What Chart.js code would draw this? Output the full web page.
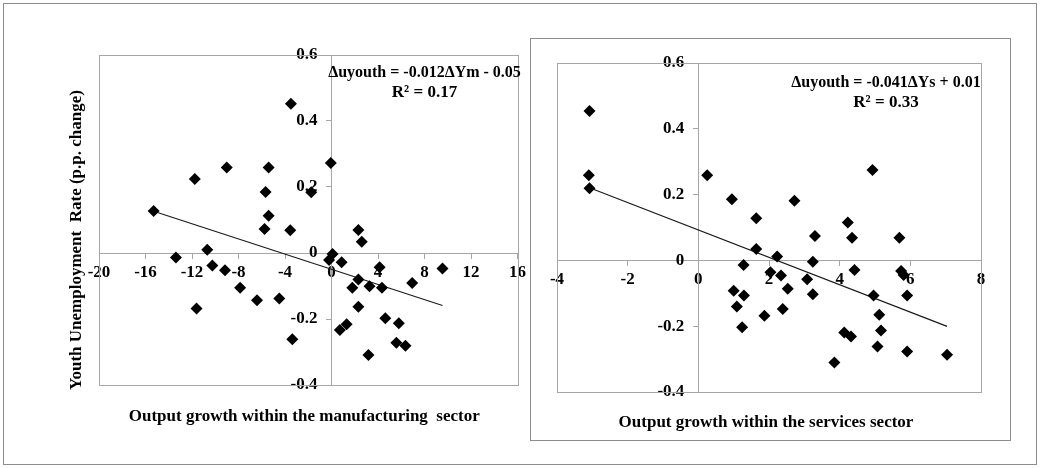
<!DOCTYPE html>
<html>
<head>
<meta charset="utf-8">
<script src="https://cdn.jsdelivr.net/npm/chart.js@4/dist/chart.umd.min.js"></script>
<style>
  html, body { margin: 0; padding: 0; background: #fff; }
  #page { position: relative; width: 1040px; height: 468px; overflow: hidden; background: #fff; }
  .frame { position: absolute; box-sizing: border-box; border: 1px solid #8c8c8c; }
  #outer { left: 3px; top: 3px; width: 1034px; height: 462px; }
  #panelS { left: 530px; top: 38px; width: 481px; height: 403px; }
  canvas { position: absolute; top: 0; }
  #mfg { left: 0; }
  #svc { left: 530px; }
</style>
</head>
<body>
<div id="page">
  <div class="frame" id="outer"></div>
  <div class="frame" id="panelS"></div>
  <canvas id="mfg" width="530" height="468"></canvas>
  <canvas id="svc" width="510" height="468"></canvas>
</div>
<script>
// Output growth within manufacturing (x) vs change in youth unemployment rate (y)
const mfgGrowth = [-15.30, -11.76, -9.01, -5.41, -5.67, -5.41, -5.76, -3.55, -3.49, -1.74,
                   -0.06, -10.69, -13.38, -10.25, -9.16, -7.86, -6.41, -4.49, -11.61, -3.37,
                   0.09, -0.21, 0.87, 2.31, 2.60, 2.31, 1.79, 3.27, 4.14, 4.34,
                   6.94, 9.55, 2.31, 4.63, 5.79, 1.30, 0.72, 5.58, 6.36, 3.18];
const mfgUnemp  = [0.127, 0.224, 0.259, 0.259, 0.185, 0.113, 0.073, 0.069, 0.452, 0.184,
                   0.273, 0.010, -0.014, -0.038, -0.052, -0.105, -0.143, -0.138, -0.168, -0.261,
                   -0.003, -0.021, -0.028, 0.070, 0.034, -0.080, -0.105, -0.101, -0.043, -0.105,
                   -0.091, -0.047, -0.163, -0.198, -0.213, -0.216, -0.233, -0.272, -0.281, -0.309];

// Output growth within services (x) vs change in youth unemployment rate (y)
const svcGrowth = [-3.08, -3.10, -3.08, 0.25, 0.95, 1.64, 2.72, 1.64, 2.23, 3.30,
                   4.23, 4.35, 4.93, 5.69, 3.24, 4.42, 1.28, 2.04, 2.34, 5.74,
                   5.81, 1.00, 1.29, 2.53, 3.08, 3.24, 4.96, 5.91, 1.09, 1.87,
                   2.39, 1.24, 5.12, 5.17, 4.13, 4.32, 5.07, 5.91, 7.04, 3.85];
const svcUnemp  = [0.454, 0.259, 0.219, 0.259, 0.186, 0.128, 0.181, 0.035, 0.012, 0.074,
                   0.115, 0.069, 0.275, 0.069, -0.004, -0.029, -0.014, -0.036, -0.046, -0.032,
                   -0.044, -0.092, -0.107, -0.086, -0.057, -0.103, -0.107, -0.107, -0.140, -0.168,
                   -0.148, -0.203, -0.165, -0.213, -0.219, -0.231, -0.262, -0.277, -0.287, -0.310];

// Axis ticks
const mfgXTicks = [-20, -16, -12, -8, -4, 0, 4, 8, 12, 16];
const svcXTicks = [-4, -2, 0, 2, 4, 6, 8];
const yTicks    = [-0.4, -0.2, 0, 0.2, 0.4, 0.6];

// Text
const mfgEquation = ['\u0394uyouth = -0.012\u0394Ym - 0.05', 'R\u00B2 = 0.17'];
const svcEquation = ['\u0394uyouth = -0.041\u0394Ys + 0.01', 'R\u00B2 = 0.33'];
const mfgXTitle = 'Output growth within the manufacturing  sector';
const svcXTitle = 'Output growth within the services sector';
const yTitle = 'Youth Unemployment  Rate (p.p. change)';

const FONT = "'Liberation Serif', 'Times New Roman', serif";
const GRAY = '#a6a6a6';

// Least-squares line through a series, spanning its x range
function fitLine(xs, ys) {
  const n = xs.length;
  const mx = xs.reduce((a, b) => a + b, 0) / n;
  const my = ys.reduce((a, b) => a + b, 0) / n;
  let sxy = 0, sxx = 0;
  xs.forEach((x, i) => { sxy += (x - mx) * (ys[i] - my); sxx += (x - mx) * (x - mx); });
  const slope = sxy / sxx, icpt = my - slope * mx;
  const x0 = Math.min(...xs), x1 = Math.max(...xs);
  return [{ x: x0, y: icpt + slope * x0 }, { x: x1, y: icpt + slope * x1 }];
}

function toPoints(xs, ys) { return xs.map((x, i) => ({ x, y: ys[i] })); }

// Plot frame, y tick label offset, titles and equation text
function decorPlugin(cfg) {
  return {
    id: 'decor',
    beforeDatasetsDraw(chart) {
      const { ctx, chartArea: a } = chart;
      ctx.save();
      ctx.strokeStyle = GRAY;
      ctx.lineWidth = 1;
      ctx.strokeRect(Math.round(a.left) + 0.5, Math.round(a.top) + 0.5,
                     Math.round(a.right - a.left), Math.round(a.bottom - a.top));
      ctx.restore();
    },
    beforeDraw(chart) {
      const items = chart.scales.y.getLabelItems(chart.chartArea);
      if (!items._placed) {
        const axisPx = chart.scales.x.getPixelForValue(0);
        items.forEach(it => { it.options.translation[0] = axisPx - cfg.yLabelGap; it.options.textAlign = 'right'; });
        items._placed = true;
      }
    },
    afterDraw(chart) {
      const { ctx, chartArea: a } = chart;
      ctx.save();
      ctx.fillStyle = '#000';
      ctx.textAlign = 'center';
      ctx.textBaseline = 'middle';
      ctx.font = 'bold 17px ' + FONT;
      ctx.fillText(cfg.xTitle, (a.left + a.right) / 2 + cfg.xTitleDx, a.bottom + cfg.xTitleDy);
      ctx.font = 'bold 16px ' + FONT;
      ctx.fillText(cfg.equation[0], a.right - cfg.eqDx, a.top + cfg.eqDy);
      ctx.font = 'bold 17px ' + FONT;
      ctx.fillText(cfg.equation[1], a.right - cfg.eqDx, a.top + cfg.eqDy + 20);
      if (cfg.yTitle) {
        ctx.translate(cfg.yTitleX, (a.top + a.bottom) / 2 + cfg.yTitleDy);
        ctx.rotate(-Math.PI / 2);
        ctx.fillText(cfg.yTitle, 0, 0);
      }
      ctx.restore();
    }
  };
}

function makeChart(id, xs, ys, xTicks, xMin, xMax, padding, cfg) {
  const tickFont = { family: FONT, size: 17, weight: 'bold' };
  return new Chart(document.getElementById(id), {
    type: 'scatter',
    data: {
      datasets: [
        {
          data: toPoints(xs, ys),
          pointStyle: 'rectRot',
          pointRadius: 6,
          pointHoverRadius: 6,
          backgroundColor: '#000',
          borderColor: '#000',
          borderWidth: 0,
          order: 1
        },
        {
          type: 'line',
          data: fitLine(xs, ys),
          borderColor: '#1a1a1a',
          borderWidth: 1.2,
          pointRadius: 0,
          fill: false,
          order: 2
        }
      ]
    },
    options: {
      responsive: false,
      animation: false,
      events: [],
      layout: { padding },
      plugins: { legend: { display: false }, tooltip: { enabled: false }, title: { display: false } },
      scales: {
        x: {
          type: 'linear',
          min: xMin, max: xMax,
          position: { y: 0 },
          afterBuildTicks: s => { s.ticks = xTicks.map(v => ({ value: v })); },
          border: { display: true, color: GRAY, width: 1 },
          grid: { drawOnChartArea: false, drawTicks: true, tickLength: 5, color: GRAY },
          ticks: { font: tickFont, color: '#000', padding: 4, maxRotation: 0, autoSkip: false }
        },
        y: {
          type: 'linear',
          min: -0.4, max: 0.6,
          position: { x: 0 },
          afterBuildTicks: s => { s.ticks = yTicks.map(v => ({ value: v })); },
          border: { display: true, color: GRAY, width: 1 },
          grid: { drawOnChartArea: false, drawTicks: true, tickLength: 5, color: GRAY },
          ticks: { font: tickFont, color: '#000', autoSkip: false }
        }
      }
    },
    plugins: [decorPlugin(cfg)]
  });
}

makeChart('mfg', mfgGrowth, mfgUnemp, mfgXTicks, -20, 16,
  { left: 99, top: 55, right: 10, bottom: 83 },
  { xTitle: mfgXTitle, equation: mfgEquation, yTitle: yTitle, yTitleX: 77, yTitleDy: 20,
    xTitleDx: -4, xTitleDy: 32, eqDx: 93, eqDy: 18, yLabelGap: 14 });

makeChart('svc', svcGrowth, svcUnemp, svcXTicks, -4, 8,
  { left: 27, top: 63, right: 59, bottom: 76 },
  { xTitle: svcXTitle, equation: svcEquation, yTitle: null,
    xTitleDx: -3, xTitleDy: 31, eqDx: 95, eqDy: 20, yLabelGap: 14 });
</script>
</body>
</html>
